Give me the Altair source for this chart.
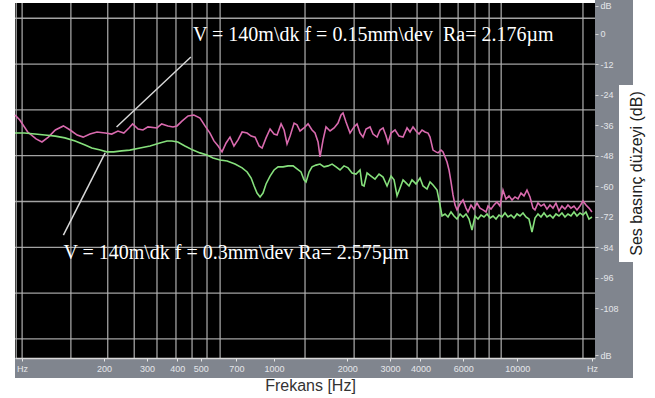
import altair as alt
import pandas as pd

# Spectrum readings (frequency in Hz, level in dB)
pink_hz = [86, 90, 97, 105, 111, 118, 126, 136, 145, 155, 164, 175, 187, 202, 215, 228, 241, 253, 262, 276,
           289, 303, 330, 345, 366, 384, 399, 418, 443, 468, 496, 520, 545, 566, 589, 611, 635, 659, 684, 711,
           739, 775, 805, 836, 868, 893, 927, 963, 1000, 1029, 1069, 1100, 1131, 1164, 1209, 1243, 1279, 1328,
           1380, 1433, 1474, 1517, 1546, 1591, 1636, 1700, 1766, 1833, 1886, 1922, 1977, 2054, 2133, 2195, 2258,
           2323, 2390, 2482, 2553, 2653, 2729, 2808, 2889, 2944, 3029, 3146, 3267, 3393, 3524, 3625, 3729, 3837,
           3948, 4061, 4178, 4299, 4381, 4507, 4637, 4726, 4862, 4955, 5050, 5146, 5244, 5344, 5446, 5551, 5657,
           5820, 5988, 6161, 6278, 6459, 6645, 6836, 7033, 7236, 7445, 7587, 7805, 8031, 8261, 8499, 8744, 8996,
           9255, 9521, 9796, 10079, 10369, 10668, 10975, 11291, 11616, 11839, 12179, 12530, 12891, 13263, 13645,
           14038, 14442, 14858, 15286, 15727, 16179, 16645, 17125, 17619, 18126, 18648, 19186, 19739, 20307]
pink_db = [-32.0, -34.0, -38.7, -41.4, -42.6, -40.7, -37.9, -36.3, -37.9, -39.9, -40.7, -39.5, -38.7, -39.1,
           -39.5, -38.3, -39.1, -37.1, -35.5, -37.5, -37.9, -36.7, -37.1, -35.5, -36.3, -36.7, -36.3, -34.4,
           -32.4, -32.0, -33.2, -36.3, -39.1, -42.2, -44.2, -46.5, -43.0, -40.7, -44.2, -41.8, -38.7, -39.1,
           -40.3, -40.7, -44.2, -45.0, -41.0, -37.5, -39.5, -39.9, -35.5, -37.9, -43.4, -40.3, -35.2, -35.9,
           -38.3, -37.1, -35.5, -37.9, -39.1, -42.6, -48.5, -41.8, -36.7, -38.3, -37.1, -35.2, -32.0, -31.2,
           -34.8, -39.1, -36.7, -35.5, -39.1, -40.7, -37.5, -36.7, -39.5, -40.7, -37.9, -37.1, -40.3, -43.0,
           -39.1, -37.9, -40.3, -40.7, -37.1, -38.7, -36.7, -38.3, -39.5, -37.9, -38.7, -39.1, -40.7, -45.8,
           -46.5, -46.9, -45.8, -46.5, -48.5, -50.5, -53.6, -58.3, -63.4, -67.4, -69.3, -67.0, -65.4, -68.6,
           -70.1, -67.4, -69.0, -66.6, -68.6, -69.3, -70.1, -67.8, -69.0, -67.4, -66.2, -67.8, -61.5, -65.0,
           -63.8, -65.4, -64.2, -65.0, -62.7, -63.8, -61.5, -64.2, -68.6, -69.3, -66.6, -67.8, -67.0, -69.0,
           -67.4, -68.6, -66.6, -69.7, -67.8, -69.0, -67.4, -68.6, -67.8, -69.3, -67.8, -65.8, -67.4, -68.6,
           -70.1]

green_hz = [86, 94, 104, 114, 126, 138, 152, 167, 178, 193, 205, 219, 236, 255, 281, 309, 339, 363, 380, 402,
            430, 464, 496, 530, 561, 600, 641, 691, 739, 775, 805, 828, 851, 876, 901, 927, 963, 1000, 1039, 1089,
            1142, 1198, 1243, 1291, 1328, 1354, 1393, 1433, 1488, 1546, 1606, 1668, 1733, 1799, 1868, 1940, 2016,
            2093, 2174, 2258, 2301, 2345, 2413, 2506, 2602, 2703, 2808, 2916, 3029, 3116, 3206, 3298, 3393, 3490,
            3591, 3694, 3837, 3985, 4100, 4258, 4381, 4507, 4682, 4816, 4908, 5050, 5195, 5344, 5498, 5657, 5820,
            5988, 6161, 6338, 6520, 6708, 6901, 7100, 7304, 7516, 7732, 7955, 8183, 8419, 8661, 8911, 9168, 9432,
            9704, 9984, 10271, 10567, 10871, 11185, 11507, 11839, 12179, 12530, 12891, 13263, 13645, 14038, 14442,
            14858, 15286, 15727, 16179, 16645, 17125, 17619, 18126, 18648, 19186, 19739, 20307]
green_db = [-39.1, -39.1, -39.5, -39.9, -40.3, -41.0, -42.2, -43.8, -45.0, -45.8, -46.5, -46.5, -46.1, -45.8,
            -45.0, -44.2, -43.0, -42.2, -42.2, -42.6, -44.2, -45.8, -46.9, -47.7, -48.9, -49.7, -50.1, -51.3,
            -52.8, -54.4, -56.8, -59.9, -62.7, -64.2, -62.7, -59.1, -56.0, -53.6, -52.4, -52.4, -52.0, -52.0,
            -53.2, -54.4, -57.5, -58.3, -54.4, -52.4, -51.7, -51.3, -52.4, -52.0, -51.3, -52.4, -53.6, -52.0,
            -52.8, -54.8, -55.2, -53.6, -59.5, -59.9, -54.8, -56.0, -57.2, -55.2, -56.4, -59.9, -56.0, -57.5,
            -63.8, -60.7, -57.5, -58.7, -59.9, -57.5, -59.1, -56.8, -59.9, -61.1, -58.3, -59.5, -61.5, -67.4,
            -71.7, -70.9, -72.1, -70.1, -71.7, -72.9, -70.9, -72.1, -70.9, -72.9, -77.2, -71.7, -72.9, -71.3,
            -72.1, -70.9, -72.5, -71.7, -72.9, -71.3, -72.1, -70.5, -72.1, -71.3, -72.5, -70.9, -71.7, -70.5,
            -72.1, -72.9, -78.0, -72.5, -70.9, -72.1, -70.5, -72.1, -71.3, -72.5, -70.9, -71.7, -70.5, -72.1,
            -70.9, -71.7, -70.1, -71.7, -70.5, -71.3, -70.1, -72.9, -72.1]

# Analyser grid and scale labels
grid_hz = [87, 92, 146, 207, 266, 330, 395, 460, 530, 600, 1341, 2135, 3029, 3875, 4816, 5716, 6707, 7667,
           8595, 18650]
grid_db = [6, -12, -30, -48, -66, -84, -102, -120]
tick_hz = [92, 200, 300, 400, 500, 700, 1000, 2000, 3000, 4000, 6000, 10000, 20300]
tick_db = [11, 0, -12, -24, -36, -48, -60, -72, -84, -96, -108, -126.5]

# Curve annotations
note_text = ["V = 140m\\dk f = 0.15mm\\dev \u00a0Ra= 2.176µm",
             "V = 140m\\dk f = 0.3mm\\dev Ra= 2.575µm"]
note_hz = [464, 136]
note_db = [-0.6, -86.2]
pointer_hz = [455, 202]
pointer_db = [-9.2, -46.9]
pointer_hz2 = [225, 136]
pointer_db2 = [-36.7, -79.2]

series = pd.concat([
    pd.DataFrame({"hz": pink_hz, "db": pink_db, "s": "0.15"}),
    pd.DataFrame({"hz": green_hz, "db": green_db, "s": "0.30"}),
])
notes = pd.DataFrame({"hz": note_hz, "db": note_db, "txt": note_text})
pointers = pd.DataFrame({"hz": pointer_hz, "db": pointer_db, "hz2": pointer_hz2, "db2": pointer_db2})

W, H = 580, 355
xs = alt.Scale(type="log", domain=[86, 20900], nice=False)
ys = alt.Scale(domain=[-127.5, 12], nice=False, zero=False)

x_axis = alt.Axis(
    values=tick_hz, grid=False, zindex=1,
    labelExpr="datum.value < 100 || datum.value > 15000 ? 'Hz' : '' + datum.value",
    labelColor="#e4e6ea", labelFontSize=9, labelFont="Liberation Sans", labelPadding=3,
    labelOverlap=False, labelFlush=False,
    tickColor="#e8e8e8", tickSize=3, domainColor="#d8d8d8", domainWidth=1.5,
    title="Frekans [Hz]", titleFont="Liberation Sans", titleFontSize=16, titleFontWeight="normal",
    titleColor="#333333", titleX=295, titleY=27, titleBaseline="middle", titleAlign="center",
)
y_axis = alt.Axis(
    orient="right", values=tick_db, grid=False, zindex=1,
    labelExpr="datum.value > 5 || datum.value < -120 ? 'dB' : '' + datum.value",
    labelColor="#e4e6ea", labelFontSize=9, labelFont="Liberation Sans", labelPadding=2,
    labelOverlap=False, labelFlush=False, labelBaseline="middle",
    tickColor="#d0d0d0", tickSize=3, domain=False,
    title="Ses basınç düzeyi (dB)", titleFont="Liberation Sans", titleFontSize=16,
    titleFontWeight="normal", titleColor="#222222", titleAngle=270, titleX=41, titleY=170,
    titleBaseline="middle", titleAlign="center",
)

X = alt.X("hz:Q", scale=xs, axis=x_axis)
Y = alt.Y("db:Q", scale=ys, axis=y_axis)

one = pd.DataFrame({"k": [0]})
strip = "#80858e"
frame = alt.layer(
    alt.Chart(one).mark_rect(color=strip).encode(
        x=alt.value(W), x2=alt.value(W + 38), y=alt.value(-3), y2=alt.value(H + 20)),
    alt.Chart(one).mark_rect(color=strip).encode(
        x=alt.value(0), x2=alt.value(W + 38), y=alt.value(H), y2=alt.value(H + 20)),
    alt.Chart(one).mark_rect(color="white").encode(
        x=alt.value(W + 24), x2=alt.value(W + 56), y=alt.value(82), y2=alt.value(259)),
)

vgrid = alt.Chart(pd.DataFrame({"hz": grid_hz})).mark_rule(
    color="#b4b4b4", strokeWidth=1.3, opacity=0.9).encode(x=X)
hgrid = alt.Chart(pd.DataFrame({"db": grid_db})).mark_rule(
    color="#b4b4b4", strokeWidth=1.3, opacity=0.9).encode(y=Y)

curves = alt.Chart(series).mark_line(strokeWidth=1.6, interpolate="linear").encode(
    x=X, y=Y,
    color=alt.Color("s:N", scale=alt.Scale(domain=["0.15", "0.30"], range=["#d96aae", "#86e07c"]),
                    legend=None),
    order=alt.Order("hz:Q"),
)

leaders = alt.Chart(pointers).mark_rule(color="#d8d8d8", strokeWidth=1.5).encode(
    x=X, y=Y, x2="hz2:Q", y2="db2:Q")

labels = alt.Chart(notes).mark_text(
    align="left", baseline="middle", font="Liberation Serif", fontSize=20, color="white"
).encode(x=X, y=Y, text="txt:N")

chart = alt.layer(frame, vgrid, hgrid, curves, leaders, labels).properties(
    width=W, height=H,
    padding={"left": 15, "top": 3, "right": 60, "bottom": 40},
    autosize=alt.AutoSizeParams(type="none"),
    background="white",
).configure_view(fill="black", strokeWidth=0)

chart.save("out.html", embed_options={"renderer": "svg", "actions": False})
